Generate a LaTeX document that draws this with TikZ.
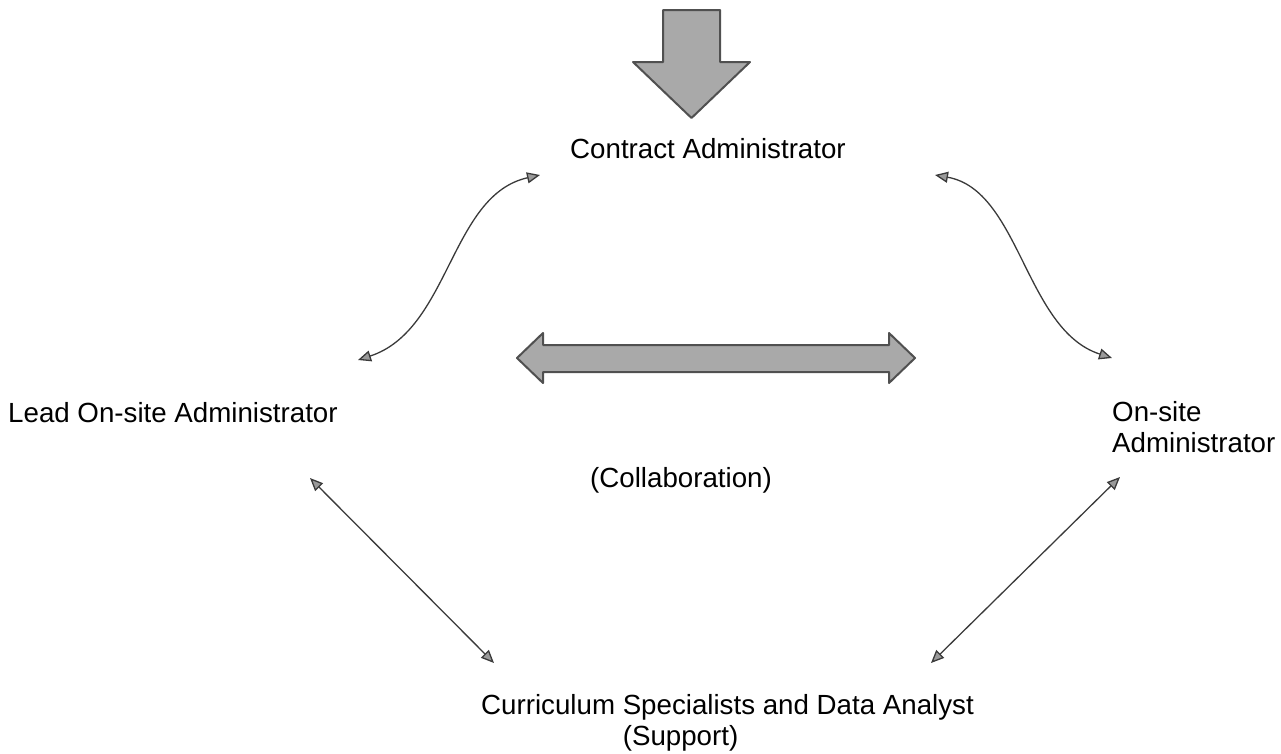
\documentclass[tikz,border=0pt]{standalone}
\usepackage{fontspec}
\setmainfont{Liberation Sans}
\usetikzlibrary{arrows.meta}
\definecolor{linegray}{HTML}{3A3A3A}
\definecolor{tipgray}{HTML}{9A9A9A}
\definecolor{blockfill}{HTML}{A9A9A9}
\definecolor{blockedge}{HTML}{505050}
\tikzset{
  lbl/.style={inner sep=0pt, font=\fontsize{27.7}{31}\selectfont, text=black},
  conn/.style={draw=linegray, line width=1.3pt,
    {Triangle[length=13pt,width=11pt,fill=tipgray]}-{Triangle[length=13pt,width=11pt,fill=tipgray]}},
  blockarrow/.style={fill=blockfill, draw=blockedge, line width=2pt, line join=round}
}
\begin{document}
\begin{tikzpicture}[x=1pt,y=-1pt]
\useasboundingbox (0,0) rectangle (1281,753);
% big down arrow
\path[blockarrow] (663,10) -- (720,10) -- (720,62) -- (750,62) -- (691.5,118) -- (633,62) -- (663,62) -- cycle;
% big double arrow
\path[blockarrow] (517,358) -- (543,333) -- (543,345) -- (889,345) -- (889,333) -- (915,358)
  -- (889,383) -- (889,372) -- (543,372) -- (543,383) -- cycle;
% labels
\node[lbl, anchor=base west] (contract) at (570,158) {Contract Administrator};
\node[lbl, anchor=base west] (lead) at (8,422) {Lead On-site Administrator};
\node[lbl, anchor=north west, align=left] (onsite) at (1112,401.5) {On-site\\Administrator};
\node[lbl, anchor=base west] (collab) at (590,487) {(Collaboration)};
\node[lbl, anchor=north west, align=left] (support) at (481,694.5) {Curriculum Specialists and Data Analyst\\\phantom{Curriculum }(Support)};
% connector end points
\coordinate (c1) at (540,175);
\coordinate (l1) at (358,360);
\coordinate (c2) at (935,175);
\coordinate (o1) at (1112,358);
\coordinate (l2) at (310,478);
\coordinate (s1) at (494,663);
\coordinate (o2) at (1120,477);
\coordinate (s2) at (931,663);
% connectors
\draw[conn] (l1) .. controls (450,330) and (450,195) .. (c1);
\draw[conn] (c2) .. controls (1020,190) and (1025,330) .. (o1);
\draw[conn] (l2) -- (s1);
\draw[conn] (s2) -- (o2);
\end{tikzpicture}
\end{document}
